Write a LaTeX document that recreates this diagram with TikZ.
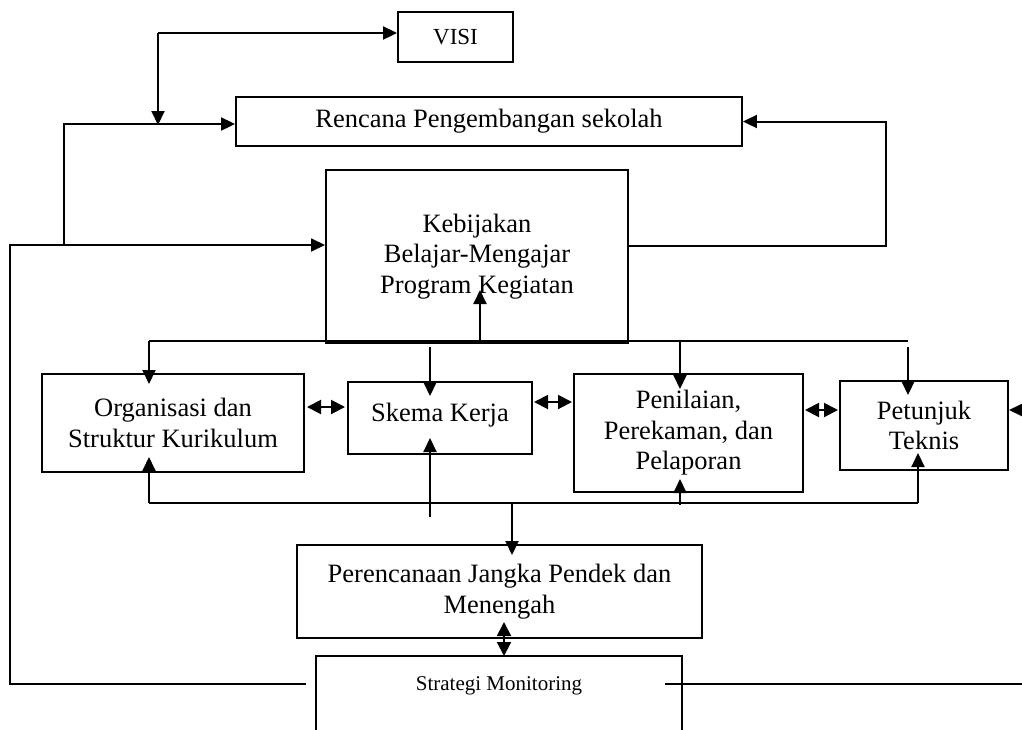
\documentclass[tikz,border=0pt]{standalone}
\usepackage{fontspec}
\setmainfont{Liberation Serif}
\usetikzlibrary{arrows.meta}
\begin{document}
\begin{tikzpicture}[x=1pt,y=-1pt,
  box/.style={draw, line width=1.9pt, inner sep=0pt, align=center, font=\fontsize{26.5}{30.5}\selectfont},
  ln/.style={line width=2pt},
  tip/.style={Triangle[length=14pt,width=13pt]},
  arr/.style={ln, -{Triangle[length=14pt,width=13pt]}},
  darr/.style={ln, {Triangle[length=14pt,width=14pt]}-{Triangle[length=14pt,width=14pt]}},
  thinln/.style={line width=1.5pt}]
\useasboundingbox (0,0) rectangle (1022,729);
\clip (0,0) rectangle (1022,729);

% boxes
\node[box, minimum width=115pt, minimum height=50pt, font=\fontsize{23}{27}\selectfont] (visi) at (455.5,37) {VISI};
\node[box, minimum width=506pt, minimum height=49pt] (rps) at (489,121.5) {Rencana Pengembangan sekolah};
\node[box, minimum width=302pt, minimum height=173pt] (keb) at (477,256.5) {Kebijakan\\Belajar-Mengajar\\Program Kegiatan};
\node[box, minimum width=262pt, minimum height=98pt] (org) at (173,423) {Organisasi dan\\Struktur Kurikulum};
\node[box, minimum width=184pt, minimum height=72pt, text depth=12pt] (skema) at (440,418) {Skema Kerja};
\node[box, minimum width=229pt, minimum height=118pt] (pen) at (688.5,433) {Penilaian,\\Perekaman, dan\\Pelaporan};
\node[box, minimum width=168pt, minimum height=89pt] (pet) at (924,425.5) {Petunjuk\\Teknis};
\node[box, minimum width=405pt, minimum height=93pt] (per) at (499.5,591.5) {Perencanaan Jangka Pendek dan\\Menengah};
\node[box, line width=1.5pt, minimum width=366pt, minimum height=104pt] (mon) at (499,708) {};
\node[font=\fontsize{21}{25}\selectfont, inner sep=0pt] (monl) at (499,686) {Strategi Monitoring};

% VISI feed
\coordinate (v0) at (158,33);
\coordinate (v1) at (158,125);
\draw[arr] (v0) -- (v0 -| visi.west);
\draw[arr] (v0) -- (v1);

% left feed to Rencana
\coordinate (a0) at (64,245);
\coordinate (a1) at (64,124);
\draw[arr] (a0) -- (a1) -- (a1 -| rps.west);

% left loop from Monitoring to Kebijakan
\coordinate (m0) at (306,684);
\coordinate (m1) at (10,684);
\coordinate (m2) at (10,245);
\draw[line width=1.6pt, -{Triangle[length=14pt,width=13pt]}] (m0) -- (m1) -- (m2) -- (m2 -| keb.west);

% right loop from Kebijakan to Rencana
\coordinate (r0) at (886,246);
\coordinate (r1) at (886,121.5);
\draw[arr] (r0 -| keb.east) -- (r0) -- (r1) -- (rps.east);

% distribution line under Kebijakan
\coordinate (d0) at (149,341);
\coordinate (d1) at (908,341);
\coordinate (k0) at (480,341);
\draw[ln] (d0) -- (d1);
\draw[arr] (k0) -- (480,290);
\draw[arr] (d0) -- (149,384);
\draw[arr] (430,347) -- (430,396);
\draw[arr] (680,341) -- (680,389);
\draw[arr] (908,347) -- (908,395);

% collection line
\coordinate (e0) at (149,503);
\coordinate (e1) at (918,503);
\draw[ln] (e0) -- (e1);
\draw[arr] (e0) -- (149,457);
\draw[arr] (430,517) -- (430,438);
\draw[arr] (680,505) -- (680,479);
\draw[arr] (e1) -- (918,453);
\draw[arr] (512,503) -- (512,555);

% double arrows between boxes
\draw[darr] (307,407) -- (345,407);
\draw[darr] (534,402) -- (572,402);
\draw[darr] (805,410) -- (838,410);
\draw[arr] (1030,410) -- (1009,410);
\draw[darr] (504,622) -- (504,656);

% right line from Monitoring
\coordinate (n0) at (665,684);
\coordinate (n1) at (1022,684);
\draw[thinln] (n0) -- (n1);
\end{tikzpicture}
\end{document}
